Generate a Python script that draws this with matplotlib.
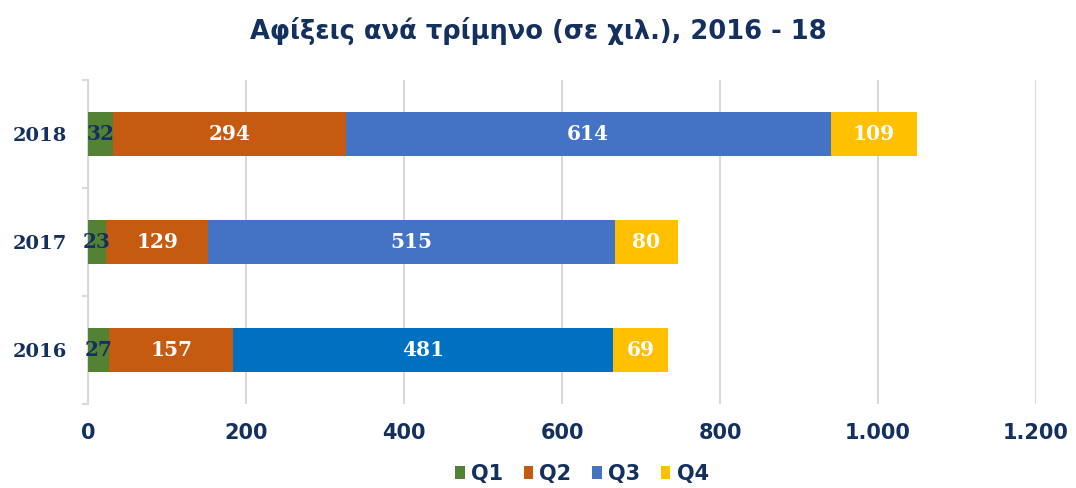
import matplotlib
matplotlib.use("Agg")
import matplotlib.pyplot as plt
from matplotlib.patches import Patch
import numpy as np

years = ["2016", "2017", "2018"]
q1 = [27, 23, 32]
q2 = [157, 129, 294]
q3 = [481, 515, 614]
q4 = [69, 80, 109]
series_names = ["Q1", "Q2", "Q3", "Q4"]
title = "Αφίξεις ανά τρίμηνο (σε χιλ.), 2016 - 18"
xticks = [0, 200, 400, 600, 800, 1000, 1200]
xticklabels = ["0", "200", "400", "600", "800", "1.000", "1.200"]

colors = ["#548235", "#C55A11", "#4472C4", "#FFC000"]
q3_colors = ["#0070C0", "#4472C4", "#4472C4"]
navy = "#14305E"

fig = plt.figure(figsize=(10.76, 4.88), dpi=100)
ax = fig.add_axes([88/1076, 1 - 404/488, (1036-88)/1076, 324/488])

y = np.arange(len(years))
h = 0.41
data = [q1, q2, q3, q4]
left = np.zeros(len(years))
for i, (vals, name) in enumerate(zip(data, series_names)):
    col = q3_colors if i == 2 else colors[i]
    ax.barh(y, vals, height=h, left=left, color=col, zorder=3)
    for j, v in enumerate(vals):
        txtcol = navy if i == 0 else "white"
        ax.text(left[j] + v / 2, y[j], str(v), ha="center", va="center",
                color=txtcol, fontsize=14.5, fontweight="bold",
                family=["DejaVu Serif"], zorder=4)
    left = left + np.array(vals)

ax.set_xlim(0, 1200)
ax.set_ylim(-0.5, 2.5)
ax.set_xticks(xticks)
ax.set_xticklabels(xticklabels)
ax.set_yticks(y)
ax.set_yticklabels(years)
ax.set_yticks([-0.5, 0.5, 1.5, 2.5], minor=True)
ax.grid(axis="x", color="#D9D9D9", linewidth=1.5, zorder=0)
for s in ["top", "right", "bottom"]:
    ax.spines[s].set_visible(False)
ax.spines["left"].set_color("#D9D9D9")
ax.spines["left"].set_linewidth(1.5)
ax.tick_params(axis="y", which="major", length=0, pad=15)
ax.tick_params(axis="y", which="minor", length=4, color="#D9D9D9", width=1.5)
ax.tick_params(axis="x", length=0, pad=14)
for lab in ax.get_yticklabels():
    lab.set_family(["DejaVu Serif"])
    lab.set_fontweight("bold")
    lab.set_fontsize(14)
    lab.set_color(navy)
for lab in ax.get_xticklabels():
    lab.set_family(["DejaVu Sans"])
    lab.set_fontweight("bold")
    lab.set_fontsize(15)
    lab.set_color(navy)

fig.text(0.5, 1 - 31/488, title, ha="center", va="center", fontsize=18.5,
         fontweight="bold", color=navy, family=["DejaVu Sans"])

handles = [Patch(facecolor=c) for c in colors]
leg = fig.legend(handles=handles, labels=series_names, loc="center",
                 bbox_to_anchor=(582/1076, 1 - 474/488), ncol=4, frameon=False,
                 handlelength=0.45, handleheight=0.6, handletextpad=0.3,
                 columnspacing=1.0,
                 prop={"family": ["DejaVu Sans"], "size": 15, "weight": "bold"})
for t in leg.get_texts():
    t.set_color(navy)

fig.savefig("out.png", dpi=100)
